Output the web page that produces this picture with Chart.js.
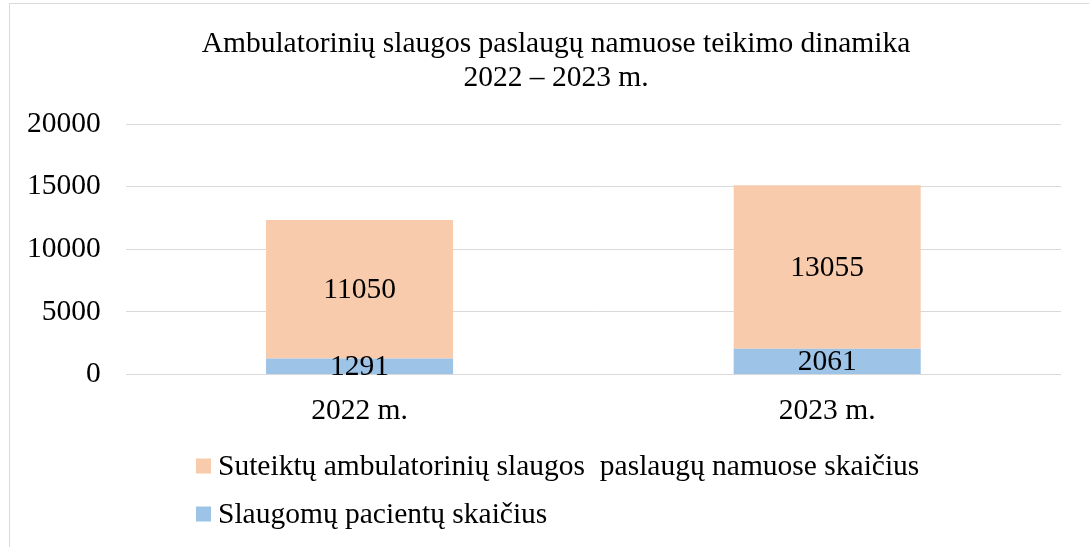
<!DOCTYPE html>
<html>
<head>
<meta charset="utf-8">
<script src="https://cdn.jsdelivr.net/npm/chart.js@4"></script>
<style>
  html, body { margin: 0; padding: 0; background: #fff; }
  #wrap { width: 1089px; height: 547px; }
</style>
</head>
<body>
<div id="wrap"><canvas id="myChart" width="1089" height="547"></canvas></div>
<script>
// Labels
let years = ['2022 m.', '2023 m.'];
let yTicks = [0, 5000, 10000, 15000, 20000];

// Datas
let patients = [1291, 2061];
let services = [11050, 13055];

let titleLines = ['Ambulatorinių slaugos paslaugų namuose teikimo dinamika', '2022 – 2023 m.'];
let FONT = '"Liberation Serif", "Times New Roman", serif';
let FS = 29.5;

// border, title, value labels and the legend list
let decor = {
    id: 'decor',
    beforeDraw(chart) {
        let c = chart.ctx;
        c.save();
        c.strokeStyle = '#d9d9d9';
        c.lineWidth = 1;
        c.strokeRect(9.5, 3.5, 1200, 700);
        c.restore();
    },
    afterDraw(chart) {
        let c = chart.ctx;
        c.save();
        c.fillStyle = '#000';
        c.font = FS + 'px ' + FONT;
        c.textAlign = 'center';
        c.textBaseline = 'middle';
        c.fillText(titleLines[0], 556, 44);
        c.fillText(titleLines[1], 556, 78);

        chart.data.datasets.forEach((ds, i) => {
            chart.getDatasetMeta(i).data.forEach((bar, j) => {
                let p = bar.getProps(['x', 'y', 'base'], true);
                c.fillText(String(ds.data[j]), p.x, (p.y + p.base) / 2 + 1);
            });
        });

        // legend: orange entry first, then blue
        let order = [1, 0];
        c.textAlign = 'left';
        order.forEach((idx, k) => {
            let ds = chart.data.datasets[idx];
            let y = 466 + k * 48;
            c.fillStyle = ds.backgroundColor;
            c.fillRect(196, y - 7.5, 15, 15);
            c.fillStyle = '#000';
            c.fillText(ds.label, 218, y + 1);
        });
        c.restore();
    }
};

let ctx = document.getElementById('myChart').getContext('2d');
let myChart = new Chart(ctx, {
    type: 'bar',
    data: {
        labels: years,
        datasets: [
            {
                label: 'Slaugomų pacientų skaičius',
                data: patients,
                backgroundColor: '#9dc3e6',
                barPercentage: 0.4,
                categoryPercentage: 1
            },
            {
                label: 'Suteiktų ambulatorinių slaugos  paslaugų namuose skaičius',
                data: services,
                backgroundColor: '#f8cbad',
                barPercentage: 0.4,
                categoryPercentage: 1
            }
        ]
    },
    options: {
        responsive: false,
        animation: false,
        events: [],
        layout: { padding: { left: 2, right: 28, top: 124, bottom: 99 } },
        plugins: {
            legend: { display: false },
            title: { display: false },
            tooltip: { enabled: false }
        },
        scales: {
            x: {
                stacked: true,
                grid: { display: false, drawTicks: false },
                border: { display: false },
                ticks: { color: '#000', padding: 19, font: { family: FONT, size: FS } }
            },
            y: {
                stacked: true,
                min: 0,
                max: 20000,
                afterBuildTicks(axis) { axis.ticks = yTicks.map(v => ({ value: v })); },
                grid: { color: '#d9d9d9', lineWidth: 1, drawTicks: false },
                border: { display: false },
                ticks: {
                    color: '#000',
                    padding: 25,
                    font: { family: FONT, size: FS },
                    callback: v => String(v)
                }
            }
        }
    },
    plugins: [decor]
});
</script>
</body>
</html>
